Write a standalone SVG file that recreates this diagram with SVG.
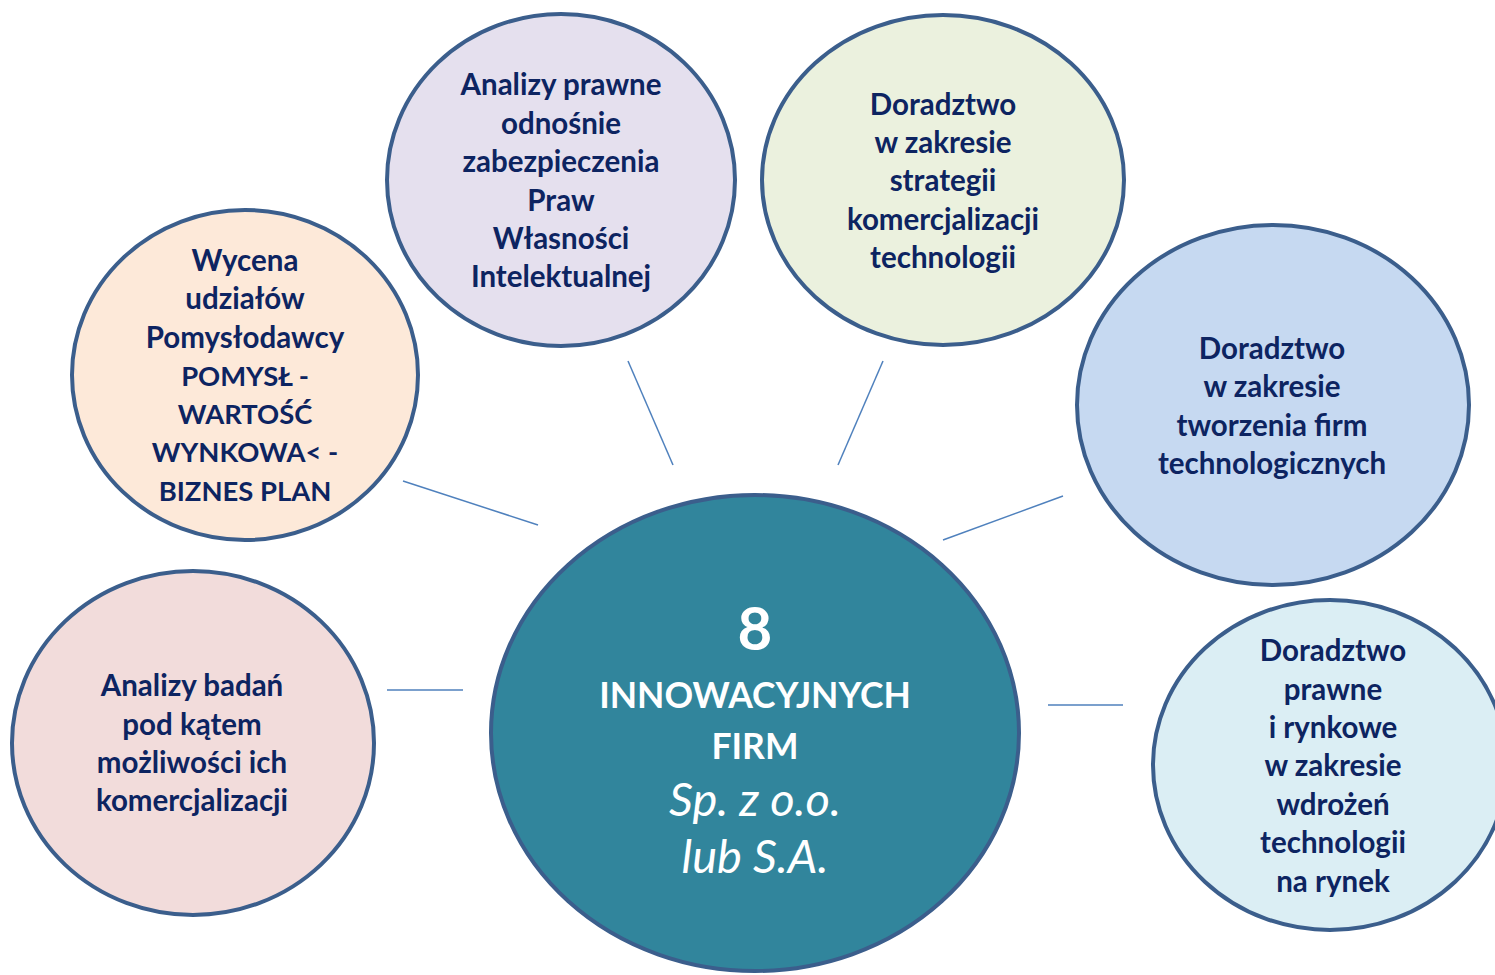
<svg xmlns="http://www.w3.org/2000/svg" width="1495" height="975" viewBox="0 0 1495 975">
<style>
.n{stroke:#3b5e8c;stroke-width:4}
.t{font-family:Lato,"Open Sans","Liberation Sans",sans-serif;font-weight:bold;font-size:29.5px;fill:#0d2461;text-anchor:middle}
.u{font-size:27.4px}
.c{font-family:Lato,"Open Sans","Liberation Sans",sans-serif;fill:#ffffff;text-anchor:middle}
.l{stroke:#4f81bd;stroke-width:1.5;fill:none}
</style>
<rect width="1495" height="975" fill="#ffffff"/>
<g id="connectors">
<line class="l" x1="628" y1="361" x2="673" y2="465"/>
<line class="l" x1="883" y1="361" x2="838" y2="465"/>
<line class="l" x1="403" y1="481" x2="538" y2="525"/>
<line class="l" x1="1063" y1="496" x2="943" y2="540"/>
<line class="l" x1="387" y1="690" x2="463" y2="690"/>
<line class="l" x1="1048" y1="705" x2="1123" y2="705"/>
</g>
<g id="node-prawa">
<ellipse class="n" cx="561" cy="180" rx="174" ry="166" fill="#e5e0ee"/>
<text class="t"><tspan x="561" y="95">Analizy prawne</tspan><tspan x="561" y="134">odnośnie</tspan><tspan x="561" y="172">zabezpieczenia</tspan><tspan x="561" y="211">Praw</tspan><tspan x="561" y="249">Własności</tspan><tspan x="561" y="287">Intelektualnej</tspan></text>
</g>
<g id="node-strategia">
<ellipse class="n" cx="943" cy="180" rx="181" ry="165" fill="#ebf1de"/>
<text class="t"><tspan x="943" y="115">Doradztwo</tspan><tspan x="943" y="153">w zakresie</tspan><tspan x="943" y="191">strategii</tspan><tspan x="943" y="230">komercjalizacji</tspan><tspan x="943" y="268">technologii</tspan></text>
</g>
<g id="node-wycena">
<ellipse class="n" cx="245" cy="375" rx="173" ry="165" fill="#fde9d9"/>
<text class="t"><tspan x="245" y="271">Wycena</tspan><tspan x="245" y="309">udziałów</tspan><tspan x="245" y="348">Pomysłodawcy</tspan><tspan class="u" x="245" y="386">POMYSŁ -</tspan><tspan class="u" x="245" y="424">WARTOŚĆ</tspan><tspan class="u" x="245" y="462">WYNKOWA&lt; -</tspan><tspan class="u" x="245" y="501">BIZNES PLAN</tspan></text>
</g>
<g id="node-tworzenie">
<ellipse class="n" cx="1273" cy="405" rx="196" ry="180" fill="#c6d9f1"/>
<text class="t"><tspan x="1272" y="359">Doradztwo</tspan><tspan x="1272" y="397">w zakresie</tspan><tspan x="1272" y="436">tworzenia firm</tspan><tspan x="1272" y="474">technologicznych</tspan></text>
</g>
<g id="node-analizy">
<ellipse class="n" cx="193" cy="743" rx="181" ry="172" fill="#f2dcdb"/>
<text class="t"><tspan x="192" y="696">Analizy badań</tspan><tspan x="192" y="735">pod kątem</tspan><tspan x="192" y="773">możliwości ich</tspan><tspan x="192" y="811">komercjalizacji</tspan></text>
</g>
<g id="node-wdrozenia">
<ellipse class="n" cx="1330" cy="765" rx="177" ry="165" fill="#dbeef4"/>
<text class="t"><tspan x="1333" y="661">Doradztwo</tspan><tspan x="1333" y="700">prawne</tspan><tspan x="1333" y="738">i rynkowe</tspan><tspan x="1333" y="776">w zakresie</tspan><tspan x="1333" y="815">wdrożeń</tspan><tspan x="1333" y="853">technologii</tspan><tspan x="1333" y="892">na rynek</tspan></text>
</g>
<g id="node-center">
<ellipse class="n" cx="755" cy="733" rx="264" ry="238" fill="#31859c"/>
<text class="c" x="755" y="650" font-size="60" font-weight="bold">8</text>
<text class="c" x="755" y="708" font-size="35.5" font-weight="bold">INNOWACYJNYCH</text>
<text class="c" x="755" y="759" font-size="35.5" font-weight="bold">FIRM</text>
<text class="c" x="755" y="816" font-size="47" font-style="italic">Sp. z o.o.</text>
<text class="c" x="755" y="873" font-size="47" font-style="italic">lub S.A.</text>
</g>
</svg>
